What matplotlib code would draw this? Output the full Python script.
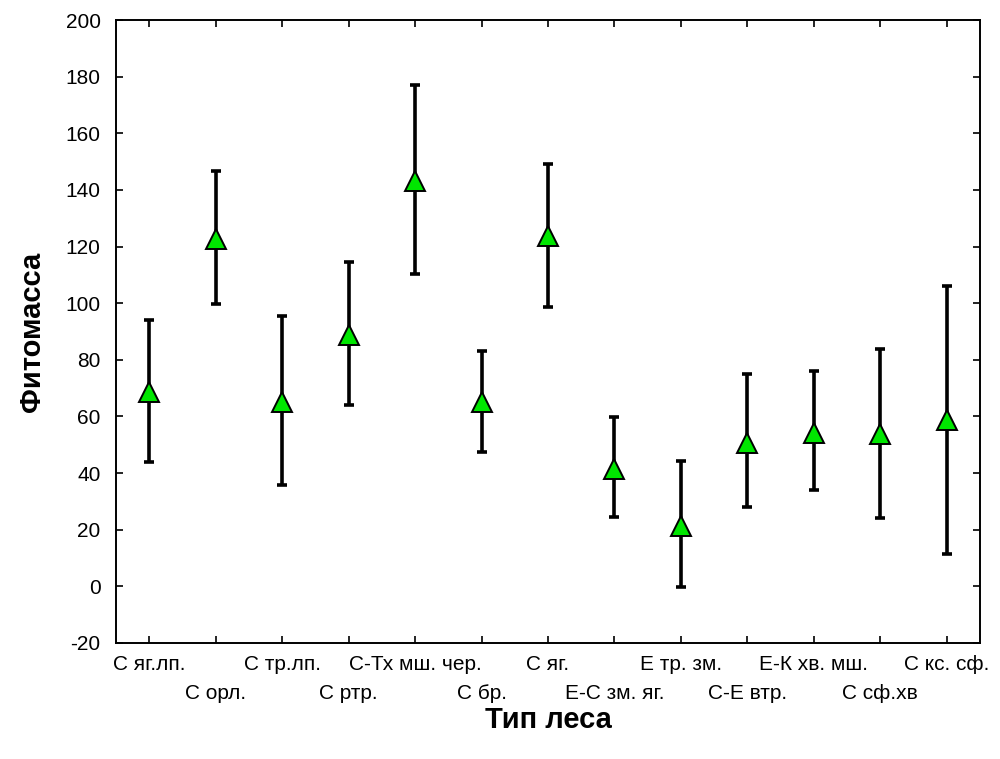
import matplotlib
matplotlib.use("Agg")
import matplotlib.pyplot as plt
import numpy as np

# Forest types (every second label sits on a lower row)
categories = ["С яг.лп.", "С орл.", "С тр.лп.", "С ртр.", "С-Тх мш. чер.", "С бр.",
              "С яг.", "Е-С зм. яг.", "Е тр. зм.", "С-Е втр.", "Е-К хв. мш.",
              "С сф.хв", "С кс. сф."]
means = [68.7, 122.5, 65.1, 88.7, 143.3, 65.1, 123.6, 41.3, 21.2, 50.7, 54.2, 53.9, 58.6]
lower = [44.0, 99.6, 35.8, 64.1, 110.2, 47.5, 98.8, 24.4, -0.1, 27.9, 33.9, 24.2, 11.5]
upper = [94.0, 146.6, 95.5, 114.4, 177.0, 83.1, 149.0, 59.7, 44.1, 75.0, 76.1, 83.8, 106.0]
y_ticks = [-20, 0, 20, 40, 60, 80, 100, 120, 140, 160, 180, 200]

plt.rcParams["font.family"] = ["Liberation Sans", "DejaVu Sans"]
plt.rcParams["axes.unicode_minus"] = False

fig = plt.figure(figsize=(10, 7.59), dpi=100)
ax = fig.add_axes([0.116, (759 - 643) / 759, 0.864, (643 - 20) / 759])

x = np.arange(len(categories))
m = np.array(means)
yerr = np.vstack([m - np.array(lower), np.array(upper) - m])

ax.errorbar(x, m, yerr=yerr, fmt="none", ecolor="black", elinewidth=2.6,
            capsize=3.8, capthick=2.6, zorder=2)
ax.plot(x, m, linestyle="none", marker="^", markersize=14,
        markerfacecolor="#00e600", markeredgecolor="black",
        markeredgewidth=1.4, zorder=3)

ax.set_xlim(-0.5, len(categories) - 0.5)
ax.set_ylim(-20, 200)
ax.set_yticks(y_ticks)
ax.set_xticks(x)
ax.set_xticklabels(categories, fontsize=15)

ax.tick_params(axis="both", direction="in", length=5, width=1.2,
               top=True, right=True, pad=11, colors="black")
ax.tick_params(axis="y", labelsize=15)
ax.tick_params(axis="x", pad=9)

# stagger the category labels over two rows
for i, tick in enumerate(ax.xaxis.get_major_ticks()):
    if i % 2 == 1:
        tick.set_pad(29.5)

for s in ax.spines.values():
    s.set_linewidth(1.4)

ax.set_ylabel("Фитомасса", fontsize=21, fontweight="bold", labelpad=14)
ax.set_xlabel("Тип леса", fontsize=21, fontweight="bold", labelpad=2)

fig.savefig("out.png", dpi=100, facecolor="white")
